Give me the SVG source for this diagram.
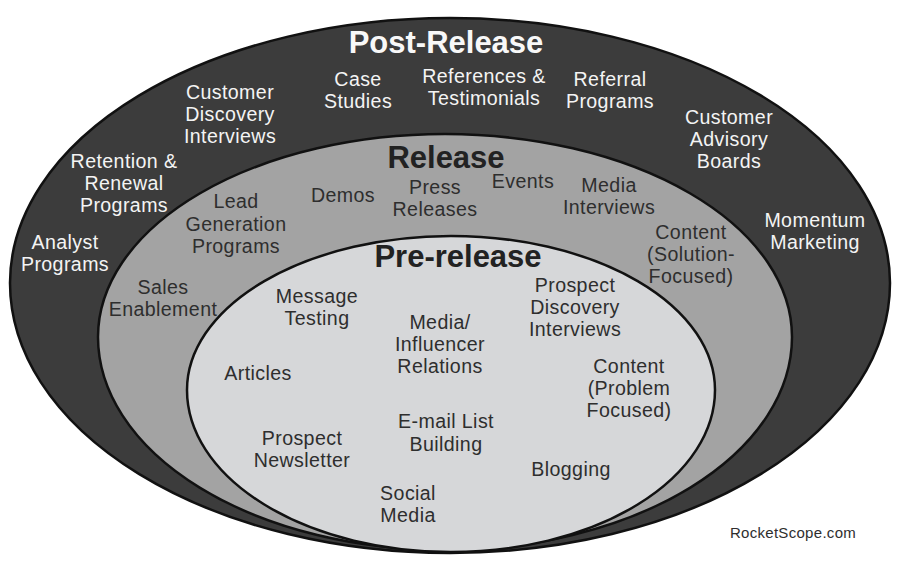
<svg xmlns="http://www.w3.org/2000/svg" width="906" height="566" viewBox="0 0 906 566">
<style>
text{font-family:"Liberation Sans","Open Sans",sans-serif;text-anchor:middle}
.w{fill:#f4f4f4;font-size:19.6px;letter-spacing:0.4px}
.d{fill:#2e2e2e;font-size:19.6px;letter-spacing:0.4px}
.t{font-weight:bold;font-size:31px}
.tw{fill:#f8f8f8}
.td{fill:#222}
.ring{stroke:#111;stroke-width:2.5}
</style>
<rect width="906" height="566" fill="#ffffff"/>
<g id="rings">
<path id="post-ring" class="ring" fill="#3c3c3c" d="M10,283 A440,265 0 0 1 890,283 A440,270 0 0 1 10,283 Z"/>
<path id="release-ring" class="ring" fill="#a3a3a3" d="M98,337 A347,203 0 0 1 792,337 A347,213 0 0 1 98,337 Z"/>
<path id="pre-ring" class="ring" fill="#d6d7d9" d="M187,390 A264,154 0 0 1 715,390 A264,162 0 0 1 187,390 Z"/>
</g>
<g id="connectors"></g>
<g id="post-release-title"><text class="t tw" x="446" y="53">Post-Release</text></g>
<g id="customer-discovery"><text class="w" x="230" y="99">Customer<tspan x="230" dy="22">Discovery</tspan><tspan x="230" dy="22">Interviews</tspan></text></g>
<g id="case-studies"><text class="w" x="358" y="86">Case<tspan x="358" dy="22">Studies</tspan></text></g>
<g id="references"><text class="w" x="484" y="83">References &amp;<tspan x="484" dy="22">Testimonials</tspan></text></g>
<g id="referral"><text class="w" x="610" y="86">Referral<tspan x="610" dy="22">Programs</tspan></text></g>
<g id="advisory"><text class="w" x="729" y="124">Customer<tspan x="729" dy="22">Advisory</tspan><tspan x="729" dy="22">Boards</tspan></text></g>
<g id="momentum"><text class="w" x="815" y="227">Momentum<tspan x="815" dy="22">Marketing</tspan></text></g>
<g id="retention"><text class="w" x="124" y="168">Retention &amp;<tspan x="124" dy="22">Renewal</tspan><tspan x="124" dy="22">Programs</tspan></text></g>
<g id="analyst"><text class="w" x="65" y="249">Analyst<tspan x="65" dy="22">Programs</tspan></text></g>
<g id="release-title"><text class="t td" x="446" y="168">Release</text></g>
<g id="demos"><text class="d" x="343" y="202">Demos</text></g>
<g id="press"><text class="d" x="435" y="194">Press<tspan x="435" dy="22">Releases</tspan></text></g>
<g id="events"><text class="d" x="523" y="188">Events</text></g>
<g id="media-interviews"><text class="d" x="609" y="192">Media<tspan x="609" dy="22">Interviews</tspan></text></g>
<g id="content-solution"><text class="d" x="691" y="239">Content<tspan x="691" dy="22">(Solution-</tspan><tspan x="691" dy="22">Focused)</tspan></text></g>
<g id="lead-gen"><text class="d" x="236" y="208">Lead<tspan x="236" dy="23">Generation</tspan><tspan x="236" dy="22">Programs</tspan></text></g>
<g id="sales"><text class="d" x="163" y="294">Sales<tspan x="163" dy="22">Enablement</tspan></text></g>
<g id="pre-release-title"><text class="t td" x="458" y="267">Pre-release</text></g>
<g id="message"><text class="d" x="317" y="303">Message<tspan x="317" dy="22">Testing</tspan></text></g>
<g id="media-influencer"><text class="d" x="440" y="329">Media/<tspan x="440" dy="22">Influencer</tspan><tspan x="440" dy="22">Relations</tspan></text></g>
<g id="prospect-discovery"><text class="d" x="575" y="292">Prospect<tspan x="575" dy="22">Discovery</tspan><tspan x="575" dy="22">Interviews</tspan></text></g>
<g id="content-problem"><text class="d" x="629" y="373">Content<tspan x="629" dy="22">(Problem</tspan><tspan x="629" dy="22">Focused)</tspan></text></g>
<g id="articles"><text class="d" x="258" y="380">Articles</text></g>
<g id="email"><text class="d" x="446" y="428">E-mail List<tspan x="446" dy="23">Building</tspan></text></g>
<g id="newsletter"><text class="d" x="302" y="445">Prospect<tspan x="302" dy="22">Newsletter</tspan></text></g>
<g id="blogging"><text class="d" x="571" y="476">Blogging</text></g>
<g id="social"><text class="d" x="408" y="500">Social<tspan x="408" dy="22">Media</tspan></text></g>
<g id="credit"><text x="793" y="538" style="fill:#2e2e2e;font-size:15px;letter-spacing:0.3px">RocketScope.com</text></g>
</svg>
